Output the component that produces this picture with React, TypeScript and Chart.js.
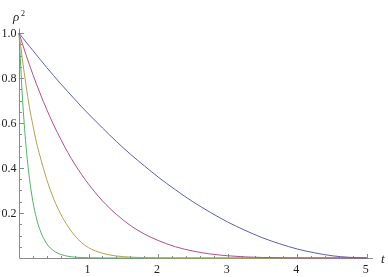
import React, { useEffect, useRef } from "react";
import { Chart, registerables } from "chart.js";

Chart.register(...registerables);

// t values (shared grid)
const tValues = [0, 0.05, 0.1, 0.15, 0.2, 0.25, 0.3, 0.4, 0.5, 0.6, 0.7, 0.8, 0.9, 1.0, 1.2, 1.4, 1.6, 1.8, 2.0, 2.25, 2.5, 2.75, 3.0, 3.25, 3.5, 3.75, 4.0, 4.25, 4.5, 4.75, 5.0];

const blueSeries = [1, 0.98, 0.96, 0.941, 0.922, 0.903, 0.884, 0.846, 0.81, 0.774, 0.74, 0.706, 0.672, 0.64, 0.578, 0.518, 0.462, 0.41, 0.36, 0.303, 0.25, 0.203, 0.16, 0.123, 0.09, 0.063, 0.04, 0.023, 0.01, 0.003, 0];
const magentaSeries = [1, 0.951, 0.904, 0.859, 0.815, 0.774, 0.734, 0.659, 0.59, 0.528, 0.47, 0.418, 0.371, 0.328, 0.254, 0.194, 0.145, 0.107, 0.078, 0.05, 0.031, 0.018, 0.01, 0.005, 0.0024, 0.001, 0.0003, 0.0001, 0, 0, 0];
const yellowSeries = [1, 0.88, 0.77, 0.67, 0.59, 0.515, 0.455, 0.348, 0.262, 0.195, 0.142, 0.1, 0.068, 0.046, 0.021, 0.009, 0.004, 0.0015, 0.0006, 0.0002, 0, 0, 0, 0, 0, 0, 0, 0, 0, 0, 0];
const greenSeries = [1, 0.71, 0.5, 0.355, 0.25, 0.178, 0.126, 0.063, 0.032, 0.016, 0.008, 0.004, 0.002, 0.001, 0.0003, 0, 0, 0, 0, 0, 0, 0, 0, 0, 0, 0, 0, 0, 0, 0, 0];

const xTickLabels = ["1", "2", "3", "4", "5"];
const yTickLabels = ["0.2", "0.4", "0.6", "0.8", "1.0"];

const seriesList = [
  { name: "blue", values: blueSeries, color: "#5c5cb8" },
  { name: "magenta", values: magentaSeries, color: "#b24f88" },
  { name: "yellow", values: yellowSeries, color: "#b3a04f" },
  { name: "green", values: greenSeries, color: "#4fb36a" },
];

const SERIF = "'Liberation Serif', 'DejaVu Serif', serif";

const axesPlugin = {
  id: "mmaAxes",
  beforeDatasetsDraw(chart: any) {
    const { ctx, scales } = chart;
    const xs = scales.x;
    const ys = scales.y;
    const x0 = Math.round(xs.getPixelForValue(0)) + 0.5;
    const y0 = Math.round(ys.getPixelForValue(0)) + 0.5;
    ctx.save();
    ctx.strokeStyle = "#8a8a8a";
    ctx.lineWidth = 1;
    ctx.beginPath();
    ctx.moveTo(x0, y0);
    ctx.lineTo(xs.right, y0);
    ctx.moveTo(x0, y0);
    ctx.lineTo(x0, ys.top);
    ctx.stroke();

    ctx.beginPath();
    for (let i = 1; i <= 25; i++) {
      const v = i * 0.2;
      const px = Math.round(xs.getPixelForValue(v)) + 0.5;
      const len = i % 5 === 0 ? 4.5 : 2.5;
      ctx.moveTo(px, y0);
      ctx.lineTo(px, y0 - len);
    }
    for (let i = 1; i <= 20; i++) {
      const v = i * 0.05;
      const py = Math.round(ys.getPixelForValue(v)) + 0.5;
      const len = i % 4 === 0 ? 4.5 : 2.5;
      ctx.moveTo(x0, py);
      ctx.lineTo(x0 + len, py);
    }
    ctx.stroke();

    ctx.fillStyle = "#222";
    ctx.font = "12px " + SERIF;
    ctx.textAlign = "center";
    ctx.textBaseline = "top";
    xTickLabels.forEach((lab) => {
      const px = xs.getPixelForValue(parseFloat(lab));
      ctx.fillText(lab, px - 1, y0 + 5);
    });
    ctx.textAlign = "right";
    ctx.textBaseline = "middle";
    yTickLabels.forEach((lab) => {
      const py = ys.getPixelForValue(parseFloat(lab));
      ctx.fillText(lab, x0 - 3, py + 0.5);
    });

    ctx.font = "italic 13px " + SERIF;
    ctx.textAlign = "left";
    ctx.textBaseline = "alphabetic";
    ctx.fillText("ρ", 13, 21);
    ctx.font = "8px " + SERIF;
    ctx.fillText("2", 21, 16);
    ctx.font = "italic 13px " + SERIF;
    ctx.textBaseline = "middle";
    ctx.fillText("t", 381, y0 + 1);
    ctx.restore();
  },
};

export default function App() {
  const canvasRef = useRef<HTMLCanvasElement | null>(null);

  useEffect(() => {
    const canvas = canvasRef.current;
    if (!canvas) return;
    const chart = new Chart(canvas, {
      type: "line",
      data: {
        datasets: seriesList.map((s) => ({
          label: s.name,
          data: tValues.map((t, i) => ({ x: t, y: s.values[i] })),
          borderColor: s.color,
          borderWidth: 1,
          pointRadius: 0,
          fill: false,
          cubicInterpolationMode: "monotone" as const,
          clip: false as any,
        })),
      },
      options: {
        animation: false,
        responsive: false,
        maintainAspectRatio: false,
        devicePixelRatio: 1,
        layout: { padding: { left: 19, right: 15, top: 28.5, bottom: 19 } },
        plugins: { legend: { display: false }, tooltip: { enabled: false } },
        events: [],
        scales: {
          x: { type: "linear", min: 0, max: 5.09, display: false },
          y: { type: "linear", min: 0, max: 1.02, display: false },
        },
      },
      plugins: [axesPlugin],
    });
    return () => chart.destroy();
  }, []);

  return (
    <div style={{ position: "fixed", left: 0, top: 0, width: 388, height: 277, background: "#fff" }}>
      <canvas ref={canvasRef} width={388} height={277} style={{ width: 388, height: 277, display: "block" }} />
    </div>
  );
}
